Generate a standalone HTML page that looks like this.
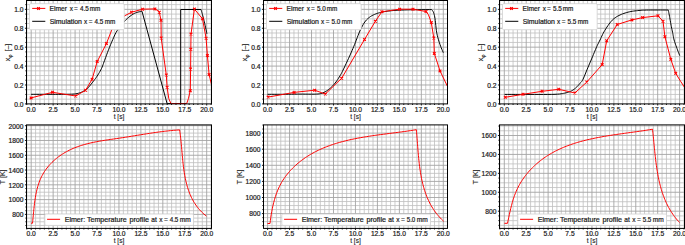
<!DOCTYPE html>
<html><head><meta charset="utf-8"><title>Elmer vs Simulation</title>
<style>html,body{margin:0;padding:0;background:#fff;width:685px;height:245px;overflow:hidden}svg{display:block}text{font-family:"Liberation Sans",sans-serif;stroke:#1a1a1a;stroke-width:0.2px}.lab text,text.lab{stroke-width:0.12px}</style>
</head><body>
<svg xmlns="http://www.w3.org/2000/svg" width="685" height="245" viewBox="0 0 685 245" font-family=''Liberation Sans', sans-serif' fill="#1a1a1a">
<clipPath id="c0top"><rect x="26.5" y="0.5" width="185" height="103.4"/></clipPath>
<path d="M26.81 0.5V103.9M35.59 0.5V103.9M39.98 0.5V103.9M44.36 0.5V103.9M48.75 0.5V103.9M57.52 0.5V103.9M61.91 0.5V103.9M66.3 0.5V103.9M70.69 0.5V103.9M79.46 0.5V103.9M83.85 0.5V103.9M88.24 0.5V103.9M92.62 0.5V103.9M101.4 0.5V103.9M105.79 0.5V103.9M110.17 0.5V103.9M114.56 0.5V103.9M123.34 0.5V103.9M127.73 0.5V103.9M132.11 0.5V103.9M136.5 0.5V103.9M145.28 0.5V103.9M149.66 0.5V103.9M154.05 0.5V103.9M158.44 0.5V103.9M167.21 0.5V103.9M171.6 0.5V103.9M175.99 0.5V103.9M180.38 0.5V103.9M189.15 0.5V103.9M193.54 0.5V103.9M197.92 0.5V103.9M202.31 0.5V103.9M211.09 0.5V103.9M26.5 99.17H211.5M26.5 94.45H211.5M26.5 89.72H211.5M26.5 80.26H211.5M26.5 75.54H211.5M26.5 70.81H211.5M26.5 61.35H211.5M26.5 56.63H211.5M26.5 51.9H211.5M26.5 42.44H211.5M26.5 37.72H211.5M26.5 32.99H211.5M26.5 23.53H211.5M26.5 18.81H211.5M26.5 14.08H211.5M26.5 4.62H211.5" stroke="#bfbfbf" stroke-width="0.8" fill="none" class="mg"/>
<path d="M31.2 0.5V103.9M53.14 0.5V103.9M75.08 0.5V103.9M97.01 0.5V103.9M118.95 0.5V103.9M140.89 0.5V103.9M162.82 0.5V103.9M184.76 0.5V103.9M206.7 0.5V103.9M26.5 84.99H211.5M26.5 66.08H211.5M26.5 47.17H211.5M26.5 28.26H211.5M26.5 9.35H211.5" stroke="#a4a4a4" stroke-width="0.9" fill="none" class="Mg"/>
<polyline points="31.1,94.3 33.19,94.3 36.11,94.3 39.55,94.3 43.21,94.3 46.8,94.3 50,94.3 52.91,94.31 55.78,94.32 58.57,94.33 61.23,94.34 63.73,94.33 66,94.3 68.03,94.26 69.85,94.23 71.49,94.17 73.01,94.1 74.43,93.98 75.8,93.8 77.09,93.57 78.27,93.29 79.36,92.97 80.37,92.61 81.35,92.22 82.3,91.8 83.21,91.37 84.05,90.91 84.85,90.43 85.63,89.9 86.4,89.29 87.2,88.6 88.02,87.81 88.83,86.92 89.65,85.96 90.47,84.96 91.28,83.93 92.1,82.9 92.92,81.87 93.75,80.81 94.57,79.73 95.4,78.62 96.21,77.48 97,76.3 97.79,75.07 98.59,73.79 99.37,72.48 100.13,71.15 100.84,69.82 101.5,68.5 102.08,67.21 102.59,65.94 103.06,64.67 103.51,63.37 103.98,62.02 104.5,60.6 105.06,59.09 105.64,57.5 106.24,55.87 106.85,54.21 107.47,52.54 108.1,50.9 108.73,49.28 109.37,47.66 110.02,46.03 110.69,44.4 111.38,42.76 112.1,41.1 112.83,39.42 113.56,37.73 114.31,36.02 115.11,34.31 116,32.6 117,30.9 118.15,29.16 119.43,27.38 120.8,25.59 122.2,23.87 123.58,22.25 124.9,20.8 126.18,19.51 127.47,18.33 128.74,17.26 129.97,16.3 131.13,15.45 132.2,14.7 133.14,14.08 133.98,13.61 134.74,13.24 135.48,12.94 136.22,12.67 137,12.4 137.88,12.13 138.84,11.9 139.8,11.71 140.7,11.54 141.45,11.41 142,11.3 167.1,103.6 180.7,103.6 180.7,9.5 201,9.5 201.16,10.02 201.36,10.71 201.61,11.55 201.89,12.51 202.19,13.56 202.5,14.7 202.83,15.94 203.18,17.31 203.56,18.78 203.94,20.32 204.33,21.9 204.7,23.5 205.09,25.25 205.51,27.2 205.94,29.2 206.33,31.07 206.66,32.66 206.9,33.8" fill="none" stroke="#000000" stroke-width="1" stroke-linejoin="round" stroke-linecap="butt" clip-path="url(#c0top)"/>
<polyline points="31.1,97.9 52.5,92.3 75.8,96 85.6,90.2 92.1,79.3 97.2,61.6 106.4,43.6 113.5,25.5 124.9,15.7 131.6,12.2 142.6,9.2 154.9,8.9 158.6,11 159.3,12.2 161,20.3 161.2,38 166.3,75 167.1,87.2 168.8,98.7 170.9,103.5 186.7,103.5 188.4,98.7 190.3,90.7 190.6,69 190.8,49.2 191,34.1 194.4,9.1 202.5,18.8 206.1,38.2 207.4,55.4 209.1,74.4 212.5,89" fill="none" stroke="#ff0000" stroke-width="1" stroke-linejoin="round" stroke-linecap="butt" clip-path="url(#c0top)"/>
<path d="M29.75 96.55L32.45 99.25M29.75 99.25L32.45 96.55" stroke="#ff0000" stroke-width="1.1" clip-path="url(#c0top)"/>
<path d="M51.15 90.95L53.85 93.65M51.15 93.65L53.85 90.95" stroke="#ff0000" stroke-width="1.1" clip-path="url(#c0top)"/>
<path d="M74.45 94.65L77.15 97.35M74.45 97.35L77.15 94.65" stroke="#ff0000" stroke-width="1.1" clip-path="url(#c0top)"/>
<path d="M84.25 88.85L86.95 91.55M84.25 91.55L86.95 88.85" stroke="#ff0000" stroke-width="1.1" clip-path="url(#c0top)"/>
<path d="M90.75 77.95L93.45 80.65M90.75 80.65L93.45 77.95" stroke="#ff0000" stroke-width="1.1" clip-path="url(#c0top)"/>
<path d="M95.85 60.25L98.55 62.95M95.85 62.95L98.55 60.25" stroke="#ff0000" stroke-width="1.1" clip-path="url(#c0top)"/>
<path d="M105.05 42.25L107.75 44.95M105.05 44.95L107.75 42.25" stroke="#ff0000" stroke-width="1.1" clip-path="url(#c0top)"/>
<path d="M112.15 24.15L114.85 26.85M112.15 26.85L114.85 24.15" stroke="#ff0000" stroke-width="1.1" clip-path="url(#c0top)"/>
<path d="M130.25 10.85L132.95 13.55M130.25 13.55L132.95 10.85" stroke="#ff0000" stroke-width="1.1" clip-path="url(#c0top)"/>
<path d="M141.25 7.85L143.95 10.55M141.25 10.55L143.95 7.85" stroke="#ff0000" stroke-width="1.1" clip-path="url(#c0top)"/>
<path d="M153.55 7.55L156.25 10.25M153.55 10.25L156.25 7.55" stroke="#ff0000" stroke-width="1.1" clip-path="url(#c0top)"/>
<path d="M157.95 10.85L160.65 13.55M157.95 13.55L160.65 10.85" stroke="#ff0000" stroke-width="1.1" clip-path="url(#c0top)"/>
<path d="M159.65 18.95L162.35 21.65M159.65 21.65L162.35 18.95" stroke="#ff0000" stroke-width="1.1" clip-path="url(#c0top)"/>
<path d="M159.85 36.65L162.55 39.35M159.85 39.35L162.55 36.65" stroke="#ff0000" stroke-width="1.1" clip-path="url(#c0top)"/>
<path d="M164.95 73.65L167.65 76.35M164.95 76.35L167.65 73.65" stroke="#ff0000" stroke-width="1.1" clip-path="url(#c0top)"/>
<path d="M165.75 85.85L168.45 88.55M165.75 88.55L168.45 85.85" stroke="#ff0000" stroke-width="1.1" clip-path="url(#c0top)"/>
<path d="M188.95 89.35L191.65 92.05M188.95 92.05L191.65 89.35" stroke="#ff0000" stroke-width="1.1" clip-path="url(#c0top)"/>
<path d="M189.25 67.65L191.95 70.35M189.25 70.35L191.95 67.65" stroke="#ff0000" stroke-width="1.1" clip-path="url(#c0top)"/>
<path d="M189.45 47.85L192.15 50.55M189.45 50.55L192.15 47.85" stroke="#ff0000" stroke-width="1.1" clip-path="url(#c0top)"/>
<path d="M189.65 32.75L192.35 35.45M189.65 35.45L192.35 32.75" stroke="#ff0000" stroke-width="1.1" clip-path="url(#c0top)"/>
<path d="M193.05 7.75L195.75 10.45M193.05 10.45L195.75 7.75" stroke="#ff0000" stroke-width="1.1" clip-path="url(#c0top)"/>
<path d="M201.15 17.45L203.85 20.15M201.15 20.15L203.85 17.45" stroke="#ff0000" stroke-width="1.1" clip-path="url(#c0top)"/>
<path d="M204.75 36.85L207.45 39.55M204.75 39.55L207.45 36.85" stroke="#ff0000" stroke-width="1.1" clip-path="url(#c0top)"/>
<path d="M206.05 54.05L208.75 56.75M206.05 56.75L208.75 54.05" stroke="#ff0000" stroke-width="1.1" clip-path="url(#c0top)"/>
<path d="M207.75 73.05L210.45 75.75M207.75 75.75L210.45 73.05" stroke="#ff0000" stroke-width="1.1" clip-path="url(#c0top)"/>
<path d="M26.81 103.9V105M31.2 103.9V105.5M35.59 103.9V105M39.98 103.9V105M44.36 103.9V105M48.75 103.9V105M53.14 103.9V105.5M57.52 103.9V105M61.91 103.9V105M66.3 103.9V105M70.69 103.9V105M75.08 103.9V105.5M79.46 103.9V105M83.85 103.9V105M88.24 103.9V105M92.62 103.9V105M97.01 103.9V105.5M101.4 103.9V105M105.79 103.9V105M110.17 103.9V105M114.56 103.9V105M118.95 103.9V105.5M123.34 103.9V105M127.73 103.9V105M132.11 103.9V105M136.5 103.9V105M140.89 103.9V105.5M145.28 103.9V105M149.66 103.9V105M154.05 103.9V105M158.44 103.9V105M162.82 103.9V105.5M167.21 103.9V105M171.6 103.9V105M175.99 103.9V105M180.38 103.9V105M184.76 103.9V105.5M189.15 103.9V105M193.54 103.9V105M197.92 103.9V105M202.31 103.9V105M206.7 103.9V105.5M211.09 103.9V105M26.5 103.9H24.9M26.5 99.17H25.4M26.5 94.45H25.4M26.5 89.72H25.4M26.5 84.99H24.9M26.5 80.26H25.4M26.5 75.54H25.4M26.5 70.81H25.4M26.5 66.08H24.9M26.5 61.35H25.4M26.5 56.63H25.4M26.5 51.9H25.4M26.5 47.17H24.9M26.5 42.44H25.4M26.5 37.72H25.4M26.5 32.99H25.4M26.5 28.26H24.9M26.5 23.53H25.4M26.5 18.81H25.4M26.5 14.08H25.4M26.5 9.35H24.9M26.5 4.62H25.4" stroke="#000" stroke-width="0.9" fill="none"/>
<rect x="26.5" y="0.5" width="185" height="103.4" fill="none" stroke="#000" stroke-width="1"/>
<text x="31.2" y="111.8" font-size="6.4" text-anchor="middle" textLength="9.3" lengthAdjust="spacingAndGlyphs">0.0</text>
<text x="53.14" y="111.8" font-size="6.4" text-anchor="middle" textLength="9.3" lengthAdjust="spacingAndGlyphs">2.5</text>
<text x="75.08" y="111.8" font-size="6.4" text-anchor="middle" textLength="9.3" lengthAdjust="spacingAndGlyphs">5.0</text>
<text x="97.01" y="111.8" font-size="6.4" text-anchor="middle" textLength="9.3" lengthAdjust="spacingAndGlyphs">7.5</text>
<text x="118.95" y="111.8" font-size="6.4" text-anchor="middle" textLength="13.03" lengthAdjust="spacingAndGlyphs">10.0</text>
<text x="140.89" y="111.8" font-size="6.4" text-anchor="middle" textLength="13.03" lengthAdjust="spacingAndGlyphs">12.5</text>
<text x="162.82" y="111.8" font-size="6.4" text-anchor="middle" textLength="13.03" lengthAdjust="spacingAndGlyphs">15.0</text>
<text x="184.76" y="111.8" font-size="6.4" text-anchor="middle" textLength="13.03" lengthAdjust="spacingAndGlyphs">17.5</text>
<text x="206.7" y="111.8" font-size="6.4" text-anchor="middle" textLength="13.03" lengthAdjust="spacingAndGlyphs">20.0</text>
<text x="23.5" y="106.75" font-size="6.4" text-anchor="end" textLength="9.3" lengthAdjust="spacingAndGlyphs">0.0</text>
<text x="23.5" y="87.84" font-size="6.4" text-anchor="end" textLength="9.3" lengthAdjust="spacingAndGlyphs">0.2</text>
<text x="23.5" y="68.93" font-size="6.4" text-anchor="end" textLength="9.3" lengthAdjust="spacingAndGlyphs">0.4</text>
<text x="23.5" y="50.02" font-size="6.4" text-anchor="end" textLength="9.3" lengthAdjust="spacingAndGlyphs">0.6</text>
<text x="23.5" y="31.11" font-size="6.4" text-anchor="end" textLength="9.3" lengthAdjust="spacingAndGlyphs">0.8</text>
<text x="23.5" y="12.2" font-size="6.4" text-anchor="end" textLength="9.3" lengthAdjust="spacingAndGlyphs">1.0</text>
<text x="119" y="118.9" font-size="7" text-anchor="middle" textLength="10.6" lengthAdjust="spacingAndGlyphs" class="lab">t [s]</text>
<g class="lab" transform="translate(10 61.3) rotate(-90)"><text x="0" y="0" font-size="7">x</text><text x="3.6" y="1.7" font-size="4.8">φ</text><text x="9.8" y="0" font-size="7">[–]</text></g>
<rect x="29.5" y="3.7" width="94.7" height="26" rx="1.2" fill="#fff" stroke="#d0d0d0" stroke-width="0.8"/>
<path d="M32.2 8.4H45.3" stroke="#ff0000" stroke-width="1"/>
<path d="M37.15 7.05L39.85 9.75M37.15 9.75L39.85 7.05" stroke="#ff0000" stroke-width="1.1"/>
<path d="M32.2 21.3H45.3" stroke="#000000" stroke-width="1"/>
<text x="49.6" y="10.7" font-size="6.4" text-anchor="start" textLength="17.4" lengthAdjust="spacingAndGlyphs">Elmer</text>
<text x="69.7" y="10.7" font-size="6.4" text-anchor="start">x</text>
<text x="74" y="10.7" font-size="6.4" text-anchor="start">=</text>
<text x="79.9" y="10.7" font-size="6.4" text-anchor="start" textLength="8.8" lengthAdjust="spacingAndGlyphs">4.5</text>
<text x="89.8" y="10.7" font-size="6.4" text-anchor="start" textLength="10.5" lengthAdjust="spacingAndGlyphs">mm</text>
<text x="49.7" y="23.6" font-size="6.4" text-anchor="start" textLength="32.2" lengthAdjust="spacingAndGlyphs">Simulation</text>
<text x="84.1" y="23.6" font-size="6.4" text-anchor="start">x</text>
<text x="88.7" y="23.6" font-size="6.4" text-anchor="start">=</text>
<text x="94.6" y="23.6" font-size="6.4" text-anchor="start" textLength="8.8" lengthAdjust="spacingAndGlyphs">4.5</text>
<text x="104.7" y="23.6" font-size="6.4" text-anchor="start" textLength="10.5" lengthAdjust="spacingAndGlyphs">mm</text>
<clipPath id="c1top"><rect x="263.5" y="0.5" width="184" height="103.4"/></clipPath>
<path d="M271.99 0.5V103.9M276.39 0.5V103.9M280.78 0.5V103.9M285.17 0.5V103.9M293.96 0.5V103.9M298.35 0.5V103.9M302.74 0.5V103.9M307.13 0.5V103.9M315.92 0.5V103.9M320.31 0.5V103.9M324.7 0.5V103.9M329.1 0.5V103.9M337.88 0.5V103.9M342.27 0.5V103.9M346.67 0.5V103.9M351.06 0.5V103.9M359.84 0.5V103.9M364.24 0.5V103.9M368.63 0.5V103.9M373.02 0.5V103.9M381.81 0.5V103.9M386.2 0.5V103.9M390.59 0.5V103.9M394.98 0.5V103.9M403.77 0.5V103.9M408.16 0.5V103.9M412.55 0.5V103.9M416.94 0.5V103.9M425.73 0.5V103.9M430.12 0.5V103.9M434.51 0.5V103.9M438.91 0.5V103.9M263.5 99.17H447.5M263.5 94.45H447.5M263.5 89.72H447.5M263.5 80.26H447.5M263.5 75.54H447.5M263.5 70.81H447.5M263.5 61.35H447.5M263.5 56.63H447.5M263.5 51.9H447.5M263.5 42.44H447.5M263.5 37.72H447.5M263.5 32.99H447.5M263.5 23.53H447.5M263.5 18.81H447.5M263.5 14.08H447.5M263.5 4.62H447.5" stroke="#bfbfbf" stroke-width="0.8" fill="none" class="mg"/>
<path d="M267.6 0.5V103.9M289.56 0.5V103.9M311.53 0.5V103.9M333.49 0.5V103.9M355.45 0.5V103.9M377.41 0.5V103.9M399.38 0.5V103.9M421.34 0.5V103.9M443.3 0.5V103.9M263.5 84.99H447.5M263.5 66.08H447.5M263.5 47.17H447.5M263.5 28.26H447.5M263.5 9.35H447.5" stroke="#a4a4a4" stroke-width="0.9" fill="none" class="Mg"/>
<polyline points="267.5,94.3 269.17,94.3 271.46,94.31 274.19,94.31 277.15,94.31 280.15,94.31 283,94.3 285.75,94.28 288.58,94.24 291.45,94.2 294.33,94.16 297.19,94.12 300,94.1 302.87,94.1 305.84,94.13 308.8,94.16 311.61,94.18 314.15,94.17 316.3,94.1 317.96,94 319.22,93.89 320.21,93.75 321.07,93.55 321.92,93.28 322.9,92.9 324,92.42 325.1,91.84 326.21,91.19 327.3,90.47 328.36,89.7 329.4,88.9 330.41,88.05 331.39,87.16 332.35,86.21 333.29,85.21 334.21,84.17 335.1,83.1 335.98,81.95 336.86,80.72 337.71,79.45 338.53,78.18 339.3,76.95 340,75.8 340.58,74.84 341.04,74.06 341.45,73.31 341.88,72.48 342.41,71.42 343.1,70 344.01,68.12 345.07,65.87 346.24,63.4 347.43,60.85 348.57,58.37 349.6,56.1 350.5,54.08 351.33,52.2 352.12,50.39 352.89,48.58 353.67,46.7 354.5,44.7 355.38,42.5 356.28,40.13 357.2,37.7 358.12,35.3 359.02,33.04 359.9,31 360.75,29.18 361.57,27.5 362.38,25.95 363.19,24.52 363.99,23.21 364.8,22 365.62,20.92 366.43,19.98 367.25,19.16 368.07,18.42 368.88,17.74 369.7,17.1 370.52,16.51 371.33,16 372.15,15.55 372.97,15.14 373.78,14.77 374.6,14.4 375.4,14.05 376.17,13.74 376.95,13.46 377.75,13.2 378.59,12.95 379.5,12.7 380.46,12.46 381.46,12.23 382.49,12.01 383.59,11.8 384.75,11.59 386,11.4 387.29,11.21 388.59,11.03 389.97,10.86 391.46,10.69 393.12,10.54 395,10.4 397.08,10.27 399.31,10.16 401.71,10.05 404.28,9.96 407.04,9.87 410,9.8 413.48,9.74 417.54,9.7 421.79,9.66 425.83,9.64 429.26,9.62 431.7,9.6 431.89,9.84 432.14,10.14 432.45,10.51 432.78,10.96 433.1,11.52 433.4,12.2 433.67,12.94 433.93,13.72 434.19,14.6 434.46,15.65 434.72,16.93 435,18.5 435.27,20.49 435.53,22.87 435.8,25.48 436.09,28.16 436.42,30.76 436.8,33.1 437.25,35.22 437.76,37.26 438.31,39.2 438.87,41.06 439.44,42.82 440,44.5 440.58,46.15 441.21,47.77 441.85,49.31 442.44,50.69 442.94,51.84 443.3,52.7" fill="none" stroke="#000000" stroke-width="1" stroke-linejoin="round" stroke-linecap="butt" clip-path="url(#c1top)"/>
<polyline points="268.1,97.1 294.1,92.4 314.7,90.2 325.3,94.1 341.7,78.2 364.5,39.5 375.4,21.2 381.9,11.8 399.6,9.2 413,9.2 426,11.5 428.4,14.6 431.3,22.6 433.8,38 434.3,53.4 440,70.9 448.5,88.5" fill="none" stroke="#ff0000" stroke-width="1" stroke-linejoin="round" stroke-linecap="butt" clip-path="url(#c1top)"/>
<path d="M266.75 95.75L269.45 98.45M266.75 98.45L269.45 95.75" stroke="#ff0000" stroke-width="1.1" clip-path="url(#c1top)"/>
<path d="M292.75 91.05L295.45 93.75M292.75 93.75L295.45 91.05" stroke="#ff0000" stroke-width="1.1" clip-path="url(#c1top)"/>
<path d="M313.35 88.85L316.05 91.55M313.35 91.55L316.05 88.85" stroke="#ff0000" stroke-width="1.1" clip-path="url(#c1top)"/>
<path d="M323.95 92.75L326.65 95.45M323.95 95.45L326.65 92.75" stroke="#ff0000" stroke-width="1.1" clip-path="url(#c1top)"/>
<path d="M340.35 76.85L343.05 79.55M340.35 79.55L343.05 76.85" stroke="#ff0000" stroke-width="1.1" clip-path="url(#c1top)"/>
<path d="M363.15 38.15L365.85 40.85M363.15 40.85L365.85 38.15" stroke="#ff0000" stroke-width="1.1" clip-path="url(#c1top)"/>
<path d="M374.05 19.85L376.75 22.55M374.05 22.55L376.75 19.85" stroke="#ff0000" stroke-width="1.1" clip-path="url(#c1top)"/>
<path d="M380.55 10.45L383.25 13.15M380.55 13.15L383.25 10.45" stroke="#ff0000" stroke-width="1.1" clip-path="url(#c1top)"/>
<path d="M398.25 7.85L400.95 10.55M398.25 10.55L400.95 7.85" stroke="#ff0000" stroke-width="1.1" clip-path="url(#c1top)"/>
<path d="M411.65 7.85L414.35 10.55M411.65 10.55L414.35 7.85" stroke="#ff0000" stroke-width="1.1" clip-path="url(#c1top)"/>
<path d="M424.65 10.15L427.35 12.85M424.65 12.85L427.35 10.15" stroke="#ff0000" stroke-width="1.1" clip-path="url(#c1top)"/>
<path d="M429.95 21.25L432.65 23.95M429.95 23.95L432.65 21.25" stroke="#ff0000" stroke-width="1.1" clip-path="url(#c1top)"/>
<path d="M432.45 36.65L435.15 39.35M432.45 39.35L435.15 36.65" stroke="#ff0000" stroke-width="1.1" clip-path="url(#c1top)"/>
<path d="M432.95 52.05L435.65 54.75M432.95 54.75L435.65 52.05" stroke="#ff0000" stroke-width="1.1" clip-path="url(#c1top)"/>
<path d="M438.65 69.55L441.35 72.25M438.65 72.25L441.35 69.55" stroke="#ff0000" stroke-width="1.1" clip-path="url(#c1top)"/>
<path d="M267.6 103.9V105.5M271.99 103.9V105M276.39 103.9V105M280.78 103.9V105M285.17 103.9V105M289.56 103.9V105.5M293.96 103.9V105M298.35 103.9V105M302.74 103.9V105M307.13 103.9V105M311.53 103.9V105.5M315.92 103.9V105M320.31 103.9V105M324.7 103.9V105M329.1 103.9V105M333.49 103.9V105.5M337.88 103.9V105M342.27 103.9V105M346.67 103.9V105M351.06 103.9V105M355.45 103.9V105.5M359.84 103.9V105M364.24 103.9V105M368.63 103.9V105M373.02 103.9V105M377.41 103.9V105.5M381.81 103.9V105M386.2 103.9V105M390.59 103.9V105M394.98 103.9V105M399.38 103.9V105.5M403.77 103.9V105M408.16 103.9V105M412.55 103.9V105M416.94 103.9V105M421.34 103.9V105.5M425.73 103.9V105M430.12 103.9V105M434.51 103.9V105M438.91 103.9V105M443.3 103.9V105.5M263.5 103.9H261.9M263.5 99.17H262.4M263.5 94.45H262.4M263.5 89.72H262.4M263.5 84.99H261.9M263.5 80.26H262.4M263.5 75.54H262.4M263.5 70.81H262.4M263.5 66.08H261.9M263.5 61.35H262.4M263.5 56.63H262.4M263.5 51.9H262.4M263.5 47.17H261.9M263.5 42.44H262.4M263.5 37.72H262.4M263.5 32.99H262.4M263.5 28.26H261.9M263.5 23.53H262.4M263.5 18.81H262.4M263.5 14.08H262.4M263.5 9.35H261.9M263.5 4.62H262.4" stroke="#000" stroke-width="0.9" fill="none"/>
<rect x="263.5" y="0.5" width="184" height="103.4" fill="none" stroke="#000" stroke-width="1"/>
<text x="267.6" y="111.8" font-size="6.4" text-anchor="middle" textLength="9.3" lengthAdjust="spacingAndGlyphs">0.0</text>
<text x="289.56" y="111.8" font-size="6.4" text-anchor="middle" textLength="9.3" lengthAdjust="spacingAndGlyphs">2.5</text>
<text x="311.53" y="111.8" font-size="6.4" text-anchor="middle" textLength="9.3" lengthAdjust="spacingAndGlyphs">5.0</text>
<text x="333.49" y="111.8" font-size="6.4" text-anchor="middle" textLength="9.3" lengthAdjust="spacingAndGlyphs">7.5</text>
<text x="355.45" y="111.8" font-size="6.4" text-anchor="middle" textLength="13.03" lengthAdjust="spacingAndGlyphs">10.0</text>
<text x="377.41" y="111.8" font-size="6.4" text-anchor="middle" textLength="13.03" lengthAdjust="spacingAndGlyphs">12.5</text>
<text x="399.38" y="111.8" font-size="6.4" text-anchor="middle" textLength="13.03" lengthAdjust="spacingAndGlyphs">15.0</text>
<text x="421.34" y="111.8" font-size="6.4" text-anchor="middle" textLength="13.03" lengthAdjust="spacingAndGlyphs">17.5</text>
<text x="443.3" y="111.8" font-size="6.4" text-anchor="middle" textLength="13.03" lengthAdjust="spacingAndGlyphs">20.0</text>
<text x="260.5" y="106.75" font-size="6.4" text-anchor="end" textLength="9.3" lengthAdjust="spacingAndGlyphs">0.0</text>
<text x="260.5" y="87.84" font-size="6.4" text-anchor="end" textLength="9.3" lengthAdjust="spacingAndGlyphs">0.2</text>
<text x="260.5" y="68.93" font-size="6.4" text-anchor="end" textLength="9.3" lengthAdjust="spacingAndGlyphs">0.4</text>
<text x="260.5" y="50.02" font-size="6.4" text-anchor="end" textLength="9.3" lengthAdjust="spacingAndGlyphs">0.6</text>
<text x="260.5" y="31.11" font-size="6.4" text-anchor="end" textLength="9.3" lengthAdjust="spacingAndGlyphs">0.8</text>
<text x="260.5" y="12.2" font-size="6.4" text-anchor="end" textLength="9.3" lengthAdjust="spacingAndGlyphs">1.0</text>
<text x="355.5" y="118.9" font-size="7" text-anchor="middle" textLength="10.6" lengthAdjust="spacingAndGlyphs" class="lab">t [s]</text>
<g class="lab" transform="translate(247 61.3) rotate(-90)"><text x="0" y="0" font-size="7">x</text><text x="3.6" y="1.7" font-size="4.8">φ</text><text x="9.8" y="0" font-size="7">[–]</text></g>
<rect x="266.5" y="3.7" width="94.7" height="26" rx="1.2" fill="#fff" stroke="#d0d0d0" stroke-width="0.8"/>
<path d="M269.2 8.4H282.3" stroke="#ff0000" stroke-width="1"/>
<path d="M274.15 7.05L276.85 9.75M274.15 9.75L276.85 7.05" stroke="#ff0000" stroke-width="1.1"/>
<path d="M269.2 21.3H282.3" stroke="#000000" stroke-width="1"/>
<text x="286.6" y="10.7" font-size="6.4" text-anchor="start" textLength="17.4" lengthAdjust="spacingAndGlyphs">Elmer</text>
<text x="306.7" y="10.7" font-size="6.4" text-anchor="start">x</text>
<text x="311" y="10.7" font-size="6.4" text-anchor="start">=</text>
<text x="316.9" y="10.7" font-size="6.4" text-anchor="start" textLength="8.8" lengthAdjust="spacingAndGlyphs">5.0</text>
<text x="326.8" y="10.7" font-size="6.4" text-anchor="start" textLength="10.5" lengthAdjust="spacingAndGlyphs">mm</text>
<text x="286.7" y="23.6" font-size="6.4" text-anchor="start" textLength="32.2" lengthAdjust="spacingAndGlyphs">Simulation</text>
<text x="321.1" y="23.6" font-size="6.4" text-anchor="start">x</text>
<text x="325.7" y="23.6" font-size="6.4" text-anchor="start">=</text>
<text x="331.6" y="23.6" font-size="6.4" text-anchor="start" textLength="8.8" lengthAdjust="spacingAndGlyphs">5.0</text>
<text x="341.7" y="23.6" font-size="6.4" text-anchor="start" textLength="10.5" lengthAdjust="spacingAndGlyphs">mm</text>
<clipPath id="c2top"><rect x="499.5" y="0.5" width="185" height="103.4"/></clipPath>
<path d="M499.92 0.5V103.9M508.68 0.5V103.9M513.07 0.5V103.9M517.45 0.5V103.9M521.83 0.5V103.9M530.6 0.5V103.9M534.98 0.5V103.9M539.36 0.5V103.9M543.74 0.5V103.9M552.51 0.5V103.9M556.89 0.5V103.9M561.27 0.5V103.9M565.65 0.5V103.9M574.42 0.5V103.9M578.8 0.5V103.9M583.19 0.5V103.9M587.57 0.5V103.9M596.33 0.5V103.9M600.72 0.5V103.9M605.1 0.5V103.9M609.48 0.5V103.9M618.25 0.5V103.9M622.63 0.5V103.9M627.01 0.5V103.9M631.39 0.5V103.9M640.16 0.5V103.9M644.54 0.5V103.9M648.92 0.5V103.9M653.31 0.5V103.9M662.07 0.5V103.9M666.45 0.5V103.9M670.84 0.5V103.9M675.22 0.5V103.9M683.98 0.5V103.9M499.5 99.17H684.5M499.5 94.45H684.5M499.5 89.72H684.5M499.5 80.26H684.5M499.5 75.54H684.5M499.5 70.81H684.5M499.5 61.35H684.5M499.5 56.63H684.5M499.5 51.9H684.5M499.5 42.44H684.5M499.5 37.72H684.5M499.5 32.99H684.5M499.5 23.53H684.5M499.5 18.81H684.5M499.5 14.08H684.5M499.5 4.62H684.5" stroke="#bfbfbf" stroke-width="0.8" fill="none" class="mg"/>
<path d="M504.3 0.5V103.9M526.21 0.5V103.9M548.12 0.5V103.9M570.04 0.5V103.9M591.95 0.5V103.9M613.86 0.5V103.9M635.77 0.5V103.9M657.69 0.5V103.9M679.6 0.5V103.9M499.5 84.99H684.5M499.5 66.08H684.5M499.5 47.17H684.5M499.5 28.26H684.5M499.5 9.35H684.5" stroke="#a4a4a4" stroke-width="0.9" fill="none" class="Mg"/>
<polyline points="504.6,94.4 507.37,94.4 511.2,94.4 515.74,94.41 520.62,94.41 525.5,94.41 530,94.4 534.37,94.4 538.93,94.41 543.48,94.42 547.81,94.42 551.72,94.38 555,94.3 557.55,94.17 559.51,94.01 561.06,93.83 562.34,93.61 563.53,93.36 564.8,93.1 566.09,92.82 567.27,92.52 568.36,92.19 569.37,91.84 570.35,91.44 571.3,91 572.22,90.51 573.09,89.96 573.92,89.38 574.71,88.77 575.47,88.14 576.2,87.5 576.91,86.84 577.58,86.14 578.23,85.42 578.84,84.7 579.43,83.98 580,83.3 580.51,82.73 580.96,82.3 581.38,81.87 581.82,81.34 582.31,80.59 582.9,79.5 583.6,78 584.39,76.18 585.22,74.13 586.09,71.98 586.96,69.83 587.8,67.8 588.63,65.85 589.46,63.89 590.3,61.93 591.13,60 591.93,58.12 592.7,56.3 593.44,54.53 594.16,52.79 594.86,51.09 595.53,49.46 596.18,47.92 596.8,46.5 597.38,45.25 597.9,44.15 598.41,43.15 598.91,42.17 599.43,41.14 600,40 600.6,38.74 601.2,37.42 601.83,36.05 602.5,34.65 603.21,33.23 604,31.8 604.88,30.31 605.86,28.74 606.89,27.14 607.94,25.6 608.95,24.16 609.9,22.9 610.76,21.84 611.55,20.92 612.31,20.12 613.09,19.39 613.9,18.7 614.8,18 615.77,17.31 616.79,16.67 617.84,16.06 618.95,15.48 620.1,14.93 621.3,14.4 622.57,13.89 623.91,13.41 625.29,12.95 626.7,12.53 628.11,12.14 629.5,11.8 630.88,11.51 632.27,11.27 633.66,11.07 635.03,10.9 636.39,10.74 637.7,10.6 638.93,10.47 640.06,10.37 641.18,10.28 642.33,10.21 643.58,10.15 645,10.1 646.6,10.06 648.34,10.03 650.19,10.02 652.1,10.01 654.05,10.01 656,10 658.12,9.99 660.46,9.99 662.84,9.99 665.06,10 666.95,10 668.3,10 668.43,10.65 668.6,11.53 668.8,12.59 669.03,13.77 669.26,15.02 669.5,16.3 669.74,17.65 670,19.13 670.27,20.68 670.54,22.26 670.82,23.82 671.1,25.3 671.38,26.73 671.67,28.16 671.97,29.56 672.26,30.92 672.54,32.24 672.8,33.5 673.02,34.66 673.2,35.72 673.38,36.73 673.56,37.75 673.8,38.82 674.1,40 674.49,41.32 674.96,42.74 675.46,44.21 675.99,45.7 676.51,47.14 677,48.5 677.49,49.85 678.01,51.23 678.53,52.58 679.01,53.81 679.41,54.84 679.7,55.6" fill="none" stroke="#000000" stroke-width="1" stroke-linejoin="round" stroke-linecap="butt" clip-path="url(#c2top)"/>
<polyline points="505.3,97.3 523,94.3 542.1,91.3 558.8,89.3 574.9,93 586.8,82 602.2,64.6 606.7,40.8 617.2,24.5 631.9,19.9 642.6,17.6 658,15.8 663,21.2 664.9,36.7 670.8,59.3 675.7,73.3 680.6,81.3 685.5,88.8" fill="none" stroke="#ff0000" stroke-width="1" stroke-linejoin="round" stroke-linecap="butt" clip-path="url(#c2top)"/>
<path d="M503.95 95.95L506.65 98.65M503.95 98.65L506.65 95.95" stroke="#ff0000" stroke-width="1.1" clip-path="url(#c2top)"/>
<path d="M521.65 92.95L524.35 95.65M521.65 95.65L524.35 92.95" stroke="#ff0000" stroke-width="1.1" clip-path="url(#c2top)"/>
<path d="M540.75 89.95L543.45 92.65M540.75 92.65L543.45 89.95" stroke="#ff0000" stroke-width="1.1" clip-path="url(#c2top)"/>
<path d="M557.45 87.95L560.15 90.65M557.45 90.65L560.15 87.95" stroke="#ff0000" stroke-width="1.1" clip-path="url(#c2top)"/>
<path d="M573.55 91.65L576.25 94.35M573.55 94.35L576.25 91.65" stroke="#ff0000" stroke-width="1.1" clip-path="url(#c2top)"/>
<path d="M585.45 80.65L588.15 83.35M585.45 83.35L588.15 80.65" stroke="#ff0000" stroke-width="1.1" clip-path="url(#c2top)"/>
<path d="M600.85 63.25L603.55 65.95M600.85 65.95L603.55 63.25" stroke="#ff0000" stroke-width="1.1" clip-path="url(#c2top)"/>
<path d="M605.35 39.45L608.05 42.15M605.35 42.15L608.05 39.45" stroke="#ff0000" stroke-width="1.1" clip-path="url(#c2top)"/>
<path d="M615.85 23.15L618.55 25.85M615.85 25.85L618.55 23.15" stroke="#ff0000" stroke-width="1.1" clip-path="url(#c2top)"/>
<path d="M630.55 18.55L633.25 21.25M630.55 21.25L633.25 18.55" stroke="#ff0000" stroke-width="1.1" clip-path="url(#c2top)"/>
<path d="M641.25 16.25L643.95 18.95M641.25 18.95L643.95 16.25" stroke="#ff0000" stroke-width="1.1" clip-path="url(#c2top)"/>
<path d="M656.65 14.45L659.35 17.15M656.65 17.15L659.35 14.45" stroke="#ff0000" stroke-width="1.1" clip-path="url(#c2top)"/>
<path d="M661.65 19.85L664.35 22.55M661.65 22.55L664.35 19.85" stroke="#ff0000" stroke-width="1.1" clip-path="url(#c2top)"/>
<path d="M663.55 35.35L666.25 38.05M663.55 38.05L666.25 35.35" stroke="#ff0000" stroke-width="1.1" clip-path="url(#c2top)"/>
<path d="M669.45 57.95L672.15 60.65M669.45 60.65L672.15 57.95" stroke="#ff0000" stroke-width="1.1" clip-path="url(#c2top)"/>
<path d="M674.35 71.95L677.05 74.65M674.35 74.65L677.05 71.95" stroke="#ff0000" stroke-width="1.1" clip-path="url(#c2top)"/>
<path d="M499.92 103.9V105M504.3 103.9V105.5M508.68 103.9V105M513.07 103.9V105M517.45 103.9V105M521.83 103.9V105M526.21 103.9V105.5M530.6 103.9V105M534.98 103.9V105M539.36 103.9V105M543.74 103.9V105M548.12 103.9V105.5M552.51 103.9V105M556.89 103.9V105M561.27 103.9V105M565.65 103.9V105M570.04 103.9V105.5M574.42 103.9V105M578.8 103.9V105M583.19 103.9V105M587.57 103.9V105M591.95 103.9V105.5M596.33 103.9V105M600.72 103.9V105M605.1 103.9V105M609.48 103.9V105M613.86 103.9V105.5M618.25 103.9V105M622.63 103.9V105M627.01 103.9V105M631.39 103.9V105M635.77 103.9V105.5M640.16 103.9V105M644.54 103.9V105M648.92 103.9V105M653.31 103.9V105M657.69 103.9V105.5M662.07 103.9V105M666.45 103.9V105M670.84 103.9V105M675.22 103.9V105M679.6 103.9V105.5M683.98 103.9V105M499.5 103.9H497.9M499.5 99.17H498.4M499.5 94.45H498.4M499.5 89.72H498.4M499.5 84.99H497.9M499.5 80.26H498.4M499.5 75.54H498.4M499.5 70.81H498.4M499.5 66.08H497.9M499.5 61.35H498.4M499.5 56.63H498.4M499.5 51.9H498.4M499.5 47.17H497.9M499.5 42.44H498.4M499.5 37.72H498.4M499.5 32.99H498.4M499.5 28.26H497.9M499.5 23.53H498.4M499.5 18.81H498.4M499.5 14.08H498.4M499.5 9.35H497.9M499.5 4.62H498.4" stroke="#000" stroke-width="0.9" fill="none"/>
<rect x="499.5" y="0.5" width="185" height="103.4" fill="none" stroke="#000" stroke-width="1"/>
<text x="504.3" y="111.8" font-size="6.4" text-anchor="middle" textLength="9.3" lengthAdjust="spacingAndGlyphs">0.0</text>
<text x="526.21" y="111.8" font-size="6.4" text-anchor="middle" textLength="9.3" lengthAdjust="spacingAndGlyphs">2.5</text>
<text x="548.12" y="111.8" font-size="6.4" text-anchor="middle" textLength="9.3" lengthAdjust="spacingAndGlyphs">5.0</text>
<text x="570.04" y="111.8" font-size="6.4" text-anchor="middle" textLength="9.3" lengthAdjust="spacingAndGlyphs">7.5</text>
<text x="591.95" y="111.8" font-size="6.4" text-anchor="middle" textLength="13.03" lengthAdjust="spacingAndGlyphs">10.0</text>
<text x="613.86" y="111.8" font-size="6.4" text-anchor="middle" textLength="13.03" lengthAdjust="spacingAndGlyphs">12.5</text>
<text x="635.77" y="111.8" font-size="6.4" text-anchor="middle" textLength="13.03" lengthAdjust="spacingAndGlyphs">15.0</text>
<text x="657.69" y="111.8" font-size="6.4" text-anchor="middle" textLength="13.03" lengthAdjust="spacingAndGlyphs">17.5</text>
<text x="679.6" y="111.8" font-size="6.4" text-anchor="middle" textLength="13.03" lengthAdjust="spacingAndGlyphs">20.0</text>
<text x="496.5" y="106.75" font-size="6.4" text-anchor="end" textLength="9.3" lengthAdjust="spacingAndGlyphs">0.0</text>
<text x="496.5" y="87.84" font-size="6.4" text-anchor="end" textLength="9.3" lengthAdjust="spacingAndGlyphs">0.2</text>
<text x="496.5" y="68.93" font-size="6.4" text-anchor="end" textLength="9.3" lengthAdjust="spacingAndGlyphs">0.4</text>
<text x="496.5" y="50.02" font-size="6.4" text-anchor="end" textLength="9.3" lengthAdjust="spacingAndGlyphs">0.6</text>
<text x="496.5" y="31.11" font-size="6.4" text-anchor="end" textLength="9.3" lengthAdjust="spacingAndGlyphs">0.8</text>
<text x="496.5" y="12.2" font-size="6.4" text-anchor="end" textLength="9.3" lengthAdjust="spacingAndGlyphs">1.0</text>
<text x="592" y="118.9" font-size="7" text-anchor="middle" textLength="10.6" lengthAdjust="spacingAndGlyphs" class="lab">t [s]</text>
<g class="lab" transform="translate(483 61.3) rotate(-90)"><text x="0" y="0" font-size="7">x</text><text x="3.6" y="1.7" font-size="4.8">φ</text><text x="9.8" y="0" font-size="7">[–]</text></g>
<rect x="502.5" y="3.7" width="94.7" height="26" rx="1.2" fill="#fff" stroke="#d0d0d0" stroke-width="0.8"/>
<path d="M505.2 8.4H518.3" stroke="#ff0000" stroke-width="1"/>
<path d="M510.15 7.05L512.85 9.75M510.15 9.75L512.85 7.05" stroke="#ff0000" stroke-width="1.1"/>
<path d="M505.2 21.3H518.3" stroke="#000000" stroke-width="1"/>
<text x="522.6" y="10.7" font-size="6.4" text-anchor="start" textLength="17.4" lengthAdjust="spacingAndGlyphs">Elmer</text>
<text x="542.7" y="10.7" font-size="6.4" text-anchor="start">x</text>
<text x="547" y="10.7" font-size="6.4" text-anchor="start">=</text>
<text x="552.9" y="10.7" font-size="6.4" text-anchor="start" textLength="8.8" lengthAdjust="spacingAndGlyphs">5.5</text>
<text x="562.8" y="10.7" font-size="6.4" text-anchor="start" textLength="10.5" lengthAdjust="spacingAndGlyphs">mm</text>
<text x="522.7" y="23.6" font-size="6.4" text-anchor="start" textLength="32.2" lengthAdjust="spacingAndGlyphs">Simulation</text>
<text x="557.1" y="23.6" font-size="6.4" text-anchor="start">x</text>
<text x="561.7" y="23.6" font-size="6.4" text-anchor="start">=</text>
<text x="567.6" y="23.6" font-size="6.4" text-anchor="start" textLength="8.8" lengthAdjust="spacingAndGlyphs">5.5</text>
<text x="577.7" y="23.6" font-size="6.4" text-anchor="start" textLength="10.5" lengthAdjust="spacingAndGlyphs">mm</text>
<clipPath id="c0bot"><rect x="26.5" y="124.9" width="185" height="103.5"/></clipPath>
<path d="M26.81 124.9V228.4M35.59 124.9V228.4M39.98 124.9V228.4M44.36 124.9V228.4M48.75 124.9V228.4M57.52 124.9V228.4M61.91 124.9V228.4M66.3 124.9V228.4M70.69 124.9V228.4M79.46 124.9V228.4M83.85 124.9V228.4M88.24 124.9V228.4M92.62 124.9V228.4M101.4 124.9V228.4M105.79 124.9V228.4M110.17 124.9V228.4M114.56 124.9V228.4M123.34 124.9V228.4M127.73 124.9V228.4M132.11 124.9V228.4M136.5 124.9V228.4M145.28 124.9V228.4M149.66 124.9V228.4M154.05 124.9V228.4M158.44 124.9V228.4M167.21 124.9V228.4M171.6 124.9V228.4M175.99 124.9V228.4M180.38 124.9V228.4M189.15 124.9V228.4M193.54 124.9V228.4M197.92 124.9V228.4M202.31 124.9V228.4M211.09 124.9V228.4M26.5 225.47H211.5M26.5 221.78H211.5M26.5 218.08H211.5M26.5 210.69H211.5M26.5 207H211.5M26.5 203.3H211.5M26.5 195.91H211.5M26.5 192.21H211.5M26.5 188.52H211.5M26.5 181.13H211.5M26.5 177.43H211.5M26.5 173.74H211.5M26.5 166.35H211.5M26.5 162.65H211.5M26.5 158.96H211.5M26.5 151.57H211.5M26.5 147.87H211.5M26.5 144.18H211.5M26.5 136.78H211.5M26.5 133.09H211.5M26.5 129.39H211.5" stroke="#bfbfbf" stroke-width="0.8" fill="none" class="mg"/>
<path d="M31.2 124.9V228.4M53.14 124.9V228.4M75.08 124.9V228.4M97.01 124.9V228.4M118.95 124.9V228.4M140.89 124.9V228.4M162.82 124.9V228.4M184.76 124.9V228.4M206.7 124.9V228.4M26.5 214.39H211.5M26.5 199.61H211.5M26.5 184.82H211.5M26.5 170.04H211.5M26.5 155.26H211.5M26.5 140.48H211.5M26.5 125.7H211.5" stroke="#a4a4a4" stroke-width="0.9" fill="none" class="Mg"/>
<polyline points="31,223.2 32.5,223.2 32.66,221.77 32.8,220.32 32.95,218.86 33.09,217.38 33.23,215.89 33.37,214.39 33.52,212.87 33.66,211.34 33.81,209.81 33.97,208.27 34.13,206.72 34.31,205.17 34.49,203.62 34.69,202.06 34.9,200.51 35.13,198.96 35.38,197.41 35.64,195.86 35.92,194.32 36.23,192.79 36.56,191.27 36.91,189.76 37.29,188.26 37.7,186.77 38.13,185.29 38.6,183.84 39.1,182.39 39.64,180.97 40.21,179.57 40.81,178.19 41.46,176.83 42.15,175.5 42.87,174.19 43.63,172.9 44.42,171.64 45.25,170.4 46.12,169.19 47.01,168 47.94,166.83 48.9,165.69 49.89,164.58 50.91,163.49 51.96,162.43 53.04,161.39 54.14,160.38 55.27,159.39 56.42,158.43 57.59,157.5 58.79,156.59 60.01,155.71 61.25,154.86 62.51,154.03 63.79,153.23 65.08,152.46 66.4,151.72 67.73,151 69.07,150.31 70.43,149.65 71.8,149.02 73.18,148.42 74.58,147.84 75.99,147.29 77.4,146.76 78.83,146.26 80.27,145.78 81.72,145.32 83.18,144.88 84.64,144.46 86.12,144.06 87.6,143.68 89.08,143.31 90.58,142.96 92.08,142.63 93.58,142.31 95.09,142.01 96.61,141.71 98.13,141.43 99.65,141.16 101.17,140.89 102.7,140.64 104.23,140.39 105.76,140.15 107.29,139.92 108.82,139.69 110.35,139.46 111.88,139.24 113.41,139.02 114.94,138.8 116.46,138.58 117.99,138.36 119.5,138.13 121.02,137.91 122.53,137.68 124.04,137.45 125.54,137.21 127.04,136.97 128.54,136.74 130.04,136.49 131.53,136.25 133.02,136.01 134.51,135.77 136,135.52 137.48,135.28 138.97,135.04 140.45,134.8 141.94,134.56 143.42,134.32 144.9,134.08 146.39,133.84 147.87,133.61 149.36,133.38 150.84,133.15 152.33,132.93 153.82,132.71 155.31,132.5 156.8,132.29 158.29,132.08 159.79,131.88 161.29,131.68 162.79,131.5 164.3,131.31 165.81,131.14 167.32,130.97 168.84,130.8 170.36,130.65 171.89,130.5 173.42,130.36 174.96,130.24 176.5,130.11 178.05,130 179.6,129.9 179.82,131.34 180.03,132.79 180.22,134.25 180.41,135.73 180.58,137.21 180.75,138.7 180.91,140.21 181.06,141.72 181.2,143.23 181.35,144.76 181.48,146.29 181.62,147.82 181.75,149.36 181.89,150.9 182.02,152.45 182.16,154 182.29,155.55 182.43,157.11 182.58,158.66 182.73,160.22 182.89,161.77 183.06,163.32 183.23,164.88 183.42,166.43 183.61,167.97 183.82,169.51 184.04,171.05 184.27,172.58 184.52,174.11 184.78,175.63 185.07,177.15 185.36,178.65 185.68,180.15 186.02,181.64 186.38,183.12 186.76,184.59 187.16,186.05 187.59,187.5 188.04,188.93 188.52,190.35 189.03,191.76 189.56,193.16 190.13,194.54 190.72,195.9 191.34,197.25 192,198.58 192.69,199.89 193.41,201.19 194.17,202.47 194.97,203.73 195.8,204.96 196.67,206.18 197.58,207.38 198.53,208.55 199.52,209.7 200.56,210.83 201.63,211.94 202.76,213.02 203.92,214.07 205.14,215.1 206.4,216.1" fill="none" stroke="#ff0000" stroke-width="1" stroke-linejoin="round" stroke-linecap="butt" clip-path="url(#c0bot)"/>
<path d="M26.81 228.4V229.5M31.2 228.4V230M35.59 228.4V229.5M39.98 228.4V229.5M44.36 228.4V229.5M48.75 228.4V229.5M53.14 228.4V230M57.52 228.4V229.5M61.91 228.4V229.5M66.3 228.4V229.5M70.69 228.4V229.5M75.08 228.4V230M79.46 228.4V229.5M83.85 228.4V229.5M88.24 228.4V229.5M92.62 228.4V229.5M97.01 228.4V230M101.4 228.4V229.5M105.79 228.4V229.5M110.17 228.4V229.5M114.56 228.4V229.5M118.95 228.4V230M123.34 228.4V229.5M127.73 228.4V229.5M132.11 228.4V229.5M136.5 228.4V229.5M140.89 228.4V230M145.28 228.4V229.5M149.66 228.4V229.5M154.05 228.4V229.5M158.44 228.4V229.5M162.82 228.4V230M167.21 228.4V229.5M171.6 228.4V229.5M175.99 228.4V229.5M180.38 228.4V229.5M184.76 228.4V230M189.15 228.4V229.5M193.54 228.4V229.5M197.92 228.4V229.5M202.31 228.4V229.5M206.7 228.4V230M211.09 228.4V229.5M26.5 225.47H25.4M26.5 221.78H25.4M26.5 218.08H25.4M26.5 214.39H24.9M26.5 210.69H25.4M26.5 207H25.4M26.5 203.3H25.4M26.5 199.61H24.9M26.5 195.91H25.4M26.5 192.21H25.4M26.5 188.52H25.4M26.5 184.82H24.9M26.5 181.13H25.4M26.5 177.43H25.4M26.5 173.74H25.4M26.5 170.04H24.9M26.5 166.35H25.4M26.5 162.65H25.4M26.5 158.96H25.4M26.5 155.26H24.9M26.5 151.57H25.4M26.5 147.87H25.4M26.5 144.18H25.4M26.5 140.48H24.9M26.5 136.78H25.4M26.5 133.09H25.4M26.5 129.39H25.4M26.5 125.7H24.9" stroke="#000" stroke-width="0.9" fill="none"/>
<rect x="26.5" y="124.9" width="185" height="103.5" fill="none" stroke="#000" stroke-width="1"/>
<text x="31.2" y="236.3" font-size="6.4" text-anchor="middle" textLength="9.3" lengthAdjust="spacingAndGlyphs">0.0</text>
<text x="53.14" y="236.3" font-size="6.4" text-anchor="middle" textLength="9.3" lengthAdjust="spacingAndGlyphs">2.5</text>
<text x="75.08" y="236.3" font-size="6.4" text-anchor="middle" textLength="9.3" lengthAdjust="spacingAndGlyphs">5.0</text>
<text x="97.01" y="236.3" font-size="6.4" text-anchor="middle" textLength="9.3" lengthAdjust="spacingAndGlyphs">7.5</text>
<text x="118.95" y="236.3" font-size="6.4" text-anchor="middle" textLength="13.03" lengthAdjust="spacingAndGlyphs">10.0</text>
<text x="140.89" y="236.3" font-size="6.4" text-anchor="middle" textLength="13.03" lengthAdjust="spacingAndGlyphs">12.5</text>
<text x="162.82" y="236.3" font-size="6.4" text-anchor="middle" textLength="13.03" lengthAdjust="spacingAndGlyphs">15.0</text>
<text x="184.76" y="236.3" font-size="6.4" text-anchor="middle" textLength="13.03" lengthAdjust="spacingAndGlyphs">17.5</text>
<text x="206.7" y="236.3" font-size="6.4" text-anchor="middle" textLength="13.03" lengthAdjust="spacingAndGlyphs">20.0</text>
<text x="23.5" y="217.24" font-size="6.4" text-anchor="end" textLength="11.17" lengthAdjust="spacingAndGlyphs">800</text>
<text x="23.5" y="202.46" font-size="6.4" text-anchor="end" textLength="14.89" lengthAdjust="spacingAndGlyphs">1000</text>
<text x="23.5" y="187.67" font-size="6.4" text-anchor="end" textLength="14.89" lengthAdjust="spacingAndGlyphs">1200</text>
<text x="23.5" y="172.89" font-size="6.4" text-anchor="end" textLength="14.89" lengthAdjust="spacingAndGlyphs">1400</text>
<text x="23.5" y="158.11" font-size="6.4" text-anchor="end" textLength="14.89" lengthAdjust="spacingAndGlyphs">1600</text>
<text x="23.5" y="143.33" font-size="6.4" text-anchor="end" textLength="14.89" lengthAdjust="spacingAndGlyphs">1800</text>
<text x="23.5" y="128.55" font-size="6.4" text-anchor="end" textLength="14.89" lengthAdjust="spacingAndGlyphs">2000</text>
<text x="119" y="243.4" font-size="7" text-anchor="middle" textLength="10.6" lengthAdjust="spacingAndGlyphs" class="lab">t [s]</text>
<text class="lab" transform="translate(4.6 176.8) rotate(-90)" font-size="7" text-anchor="middle">T [K]</text>
<rect x="44.8" y="214" width="148.7" height="11.4" rx="1.2" fill="#fff" stroke="#d0d0d0" stroke-width="0.8"/>
<path d="M47.1 219.3H60.1" stroke="#ff0000" stroke-width="1"/>
<text x="64.7" y="221.7" font-size="6.6" text-anchor="start" textLength="62" lengthAdjust="spacingAndGlyphs">Elmer: Temperature</text>
<text x="129.4" y="221.7" font-size="6.6" text-anchor="start" textLength="19.6" lengthAdjust="spacingAndGlyphs">profile</text>
<text x="151.3" y="221.7" font-size="6.6" text-anchor="start">at</text>
<text x="159.2" y="221.7" font-size="6.6" text-anchor="start">x</text>
<text x="164" y="221.7" font-size="6.6" text-anchor="start">=</text>
<text x="169.7" y="221.7" font-size="6.6" text-anchor="start" textLength="8.6" lengthAdjust="spacingAndGlyphs">4.5</text>
<text x="179.7" y="221.7" font-size="6.6" text-anchor="start" textLength="11" lengthAdjust="spacingAndGlyphs">mm</text>
<clipPath id="c1bot"><rect x="263.5" y="124.9" width="184" height="103.5"/></clipPath>
<path d="M271.99 124.9V228.4M276.39 124.9V228.4M280.78 124.9V228.4M285.17 124.9V228.4M293.96 124.9V228.4M298.35 124.9V228.4M302.74 124.9V228.4M307.13 124.9V228.4M315.92 124.9V228.4M320.31 124.9V228.4M324.7 124.9V228.4M329.1 124.9V228.4M337.88 124.9V228.4M342.27 124.9V228.4M346.67 124.9V228.4M351.06 124.9V228.4M359.84 124.9V228.4M364.24 124.9V228.4M368.63 124.9V228.4M373.02 124.9V228.4M381.81 124.9V228.4M386.2 124.9V228.4M390.59 124.9V228.4M394.98 124.9V228.4M403.77 124.9V228.4M408.16 124.9V228.4M412.55 124.9V228.4M416.94 124.9V228.4M425.73 124.9V228.4M430.12 124.9V228.4M434.51 124.9V228.4M438.91 124.9V228.4M263.5 225.66H447.5M263.5 221.64H447.5M263.5 217.62H447.5M263.5 209.57H447.5M263.5 205.54H447.5M263.5 201.52H447.5M263.5 193.47H447.5M263.5 189.45H447.5M263.5 185.42H447.5M263.5 177.37H447.5M263.5 173.35H447.5M263.5 169.33H447.5M263.5 161.28H447.5M263.5 157.25H447.5M263.5 153.23H447.5M263.5 145.18H447.5M263.5 141.16H447.5M263.5 137.13H447.5M263.5 129.09H447.5" stroke="#bfbfbf" stroke-width="0.8" fill="none" class="mg"/>
<path d="M267.6 124.9V228.4M289.56 124.9V228.4M311.53 124.9V228.4M333.49 124.9V228.4M355.45 124.9V228.4M377.41 124.9V228.4M399.38 124.9V228.4M421.34 124.9V228.4M443.3 124.9V228.4M263.5 213.59H447.5M263.5 197.49H447.5M263.5 181.4H447.5M263.5 165.3H447.5M263.5 149.21H447.5M263.5 133.11H447.5" stroke="#a4a4a4" stroke-width="0.9" fill="none" class="Mg"/>
<polyline points="267.5,223.5 270,223.5 270.18,222.01 270.38,220.52 270.58,219.02 270.79,217.52 271.01,216.01 271.25,214.5 271.5,212.99 271.77,211.48 272.05,209.97 272.35,208.46 272.66,206.96 273,205.45 273.35,203.95 273.72,202.46 274.11,200.97 274.53,199.49 274.96,198.02 275.42,196.56 275.9,195.1 276.41,193.66 276.95,192.23 277.51,190.82 278.09,189.41 278.71,188.02 279.36,186.65 280.03,185.29 280.74,183.96 281.48,182.64 282.24,181.33 283.04,180.05 283.87,178.79 284.73,177.54 285.61,176.32 286.52,175.11 287.46,173.93 288.42,172.76 289.41,171.61 290.42,170.49 291.45,169.38 292.51,168.29 293.59,167.23 294.68,166.18 295.8,165.15 296.93,164.15 298.08,163.16 299.25,162.2 300.44,161.26 301.64,160.34 302.86,159.44 304.08,158.56 305.33,157.7 306.58,156.86 307.85,156.05 309.12,155.26 310.41,154.48 311.71,153.73 313.02,153 314.34,152.28 315.67,151.59 317.01,150.92 318.36,150.26 319.71,149.62 321.08,149 322.46,148.4 323.84,147.81 325.24,147.25 326.64,146.69 328.05,146.16 329.46,145.64 330.89,145.13 332.32,144.64 333.76,144.16 335.2,143.7 336.65,143.25 338.11,142.82 339.57,142.4 341.04,141.99 342.51,141.59 343.99,141.21 345.48,140.84 346.97,140.47 348.46,140.12 349.96,139.78 351.46,139.45 352.96,139.13 354.47,138.82 355.98,138.52 357.5,138.23 359.02,137.94 360.54,137.67 362.06,137.4 363.58,137.13 365.11,136.88 366.64,136.63 368.17,136.39 369.7,136.15 371.23,135.92 372.76,135.7 374.29,135.47 375.82,135.26 377.35,135.04 378.88,134.83 380.41,134.63 381.94,134.42 383.47,134.22 385,134.03 386.52,133.83 388.05,133.63 389.57,133.44 391.09,133.24 392.6,133.05 394.11,132.86 395.62,132.66 397.13,132.47 398.63,132.27 400.13,132.07 401.63,131.88 403.12,131.67 404.6,131.47 406.09,131.26 407.56,131.05 409.03,130.84 410.5,130.62 411.96,130.4 413.41,130.17 414.86,129.94 416.3,129.7 416.44,131.18 416.58,132.67 416.71,134.17 416.84,135.67 416.96,137.18 417.08,138.7 417.2,140.22 417.32,141.74 417.43,143.28 417.55,144.81 417.67,146.35 417.79,147.89 417.91,149.43 418.03,150.98 418.16,152.52 418.29,154.07 418.43,155.62 418.57,157.17 418.72,158.72 418.88,160.27 419.05,161.82 419.22,163.37 419.4,164.91 419.6,166.46 419.8,168 420.02,169.53 420.24,171.07 420.48,172.6 420.74,174.12 421.01,175.64 421.29,177.16 421.59,178.67 421.9,180.17 422.24,181.67 422.59,183.16 422.95,184.64 423.34,186.12 423.75,187.58 424.18,189.04 424.63,190.49 425.1,191.92 425.6,193.35 426.12,194.77 426.66,196.18 427.23,197.57 427.82,198.95 428.44,200.32 429.09,201.68 429.76,203.03 430.47,204.36 431.2,205.67 431.96,206.97 432.75,208.26 433.58,209.53 434.43,210.79 435.32,212.03 436.25,213.25 437.2,214.46 438.19,215.64 439.22,216.81 440.28,217.96 441.39,219.1 442.52,220.21 443.7,221.3" fill="none" stroke="#ff0000" stroke-width="1" stroke-linejoin="round" stroke-linecap="butt" clip-path="url(#c1bot)"/>
<path d="M267.6 228.4V230M271.99 228.4V229.5M276.39 228.4V229.5M280.78 228.4V229.5M285.17 228.4V229.5M289.56 228.4V230M293.96 228.4V229.5M298.35 228.4V229.5M302.74 228.4V229.5M307.13 228.4V229.5M311.53 228.4V230M315.92 228.4V229.5M320.31 228.4V229.5M324.7 228.4V229.5M329.1 228.4V229.5M333.49 228.4V230M337.88 228.4V229.5M342.27 228.4V229.5M346.67 228.4V229.5M351.06 228.4V229.5M355.45 228.4V230M359.84 228.4V229.5M364.24 228.4V229.5M368.63 228.4V229.5M373.02 228.4V229.5M377.41 228.4V230M381.81 228.4V229.5M386.2 228.4V229.5M390.59 228.4V229.5M394.98 228.4V229.5M399.38 228.4V230M403.77 228.4V229.5M408.16 228.4V229.5M412.55 228.4V229.5M416.94 228.4V229.5M421.34 228.4V230M425.73 228.4V229.5M430.12 228.4V229.5M434.51 228.4V229.5M438.91 228.4V229.5M443.3 228.4V230M263.5 225.66H262.4M263.5 221.64H262.4M263.5 217.62H262.4M263.5 213.59H261.9M263.5 209.57H262.4M263.5 205.54H262.4M263.5 201.52H262.4M263.5 197.49H261.9M263.5 193.47H262.4M263.5 189.45H262.4M263.5 185.42H262.4M263.5 181.4H261.9M263.5 177.37H262.4M263.5 173.35H262.4M263.5 169.33H262.4M263.5 165.3H261.9M263.5 161.28H262.4M263.5 157.25H262.4M263.5 153.23H262.4M263.5 149.21H261.9M263.5 145.18H262.4M263.5 141.16H262.4M263.5 137.13H262.4M263.5 133.11H261.9M263.5 129.09H262.4M263.5 125.06H262.4" stroke="#000" stroke-width="0.9" fill="none"/>
<rect x="263.5" y="124.9" width="184" height="103.5" fill="none" stroke="#000" stroke-width="1"/>
<text x="267.6" y="236.3" font-size="6.4" text-anchor="middle" textLength="9.3" lengthAdjust="spacingAndGlyphs">0.0</text>
<text x="289.56" y="236.3" font-size="6.4" text-anchor="middle" textLength="9.3" lengthAdjust="spacingAndGlyphs">2.5</text>
<text x="311.53" y="236.3" font-size="6.4" text-anchor="middle" textLength="9.3" lengthAdjust="spacingAndGlyphs">5.0</text>
<text x="333.49" y="236.3" font-size="6.4" text-anchor="middle" textLength="9.3" lengthAdjust="spacingAndGlyphs">7.5</text>
<text x="355.45" y="236.3" font-size="6.4" text-anchor="middle" textLength="13.03" lengthAdjust="spacingAndGlyphs">10.0</text>
<text x="377.41" y="236.3" font-size="6.4" text-anchor="middle" textLength="13.03" lengthAdjust="spacingAndGlyphs">12.5</text>
<text x="399.38" y="236.3" font-size="6.4" text-anchor="middle" textLength="13.03" lengthAdjust="spacingAndGlyphs">15.0</text>
<text x="421.34" y="236.3" font-size="6.4" text-anchor="middle" textLength="13.03" lengthAdjust="spacingAndGlyphs">17.5</text>
<text x="443.3" y="236.3" font-size="6.4" text-anchor="middle" textLength="13.03" lengthAdjust="spacingAndGlyphs">20.0</text>
<text x="260.5" y="216.44" font-size="6.4" text-anchor="end" textLength="11.17" lengthAdjust="spacingAndGlyphs">800</text>
<text x="260.5" y="200.34" font-size="6.4" text-anchor="end" textLength="14.89" lengthAdjust="spacingAndGlyphs">1000</text>
<text x="260.5" y="184.25" font-size="6.4" text-anchor="end" textLength="14.89" lengthAdjust="spacingAndGlyphs">1200</text>
<text x="260.5" y="168.15" font-size="6.4" text-anchor="end" textLength="14.89" lengthAdjust="spacingAndGlyphs">1400</text>
<text x="260.5" y="152.06" font-size="6.4" text-anchor="end" textLength="14.89" lengthAdjust="spacingAndGlyphs">1600</text>
<text x="260.5" y="135.96" font-size="6.4" text-anchor="end" textLength="14.89" lengthAdjust="spacingAndGlyphs">1800</text>
<text x="355.5" y="243.4" font-size="7" text-anchor="middle" textLength="10.6" lengthAdjust="spacingAndGlyphs" class="lab">t [s]</text>
<text class="lab" transform="translate(241.6 176.8) rotate(-90)" font-size="7" text-anchor="middle">T [K]</text>
<rect x="281.8" y="214" width="148.7" height="11.4" rx="1.2" fill="#fff" stroke="#d0d0d0" stroke-width="0.8"/>
<path d="M284.1 219.3H297.1" stroke="#ff0000" stroke-width="1"/>
<text x="301.7" y="221.7" font-size="6.6" text-anchor="start" textLength="62" lengthAdjust="spacingAndGlyphs">Elmer: Temperature</text>
<text x="366.4" y="221.7" font-size="6.6" text-anchor="start" textLength="19.6" lengthAdjust="spacingAndGlyphs">profile</text>
<text x="388.3" y="221.7" font-size="6.6" text-anchor="start">at</text>
<text x="396.2" y="221.7" font-size="6.6" text-anchor="start">x</text>
<text x="401" y="221.7" font-size="6.6" text-anchor="start">=</text>
<text x="406.7" y="221.7" font-size="6.6" text-anchor="start" textLength="8.6" lengthAdjust="spacingAndGlyphs">5.0</text>
<text x="416.7" y="221.7" font-size="6.6" text-anchor="start" textLength="11" lengthAdjust="spacingAndGlyphs">mm</text>
<clipPath id="c2bot"><rect x="499.5" y="124.9" width="185" height="103.5"/></clipPath>
<path d="M499.92 124.9V228.4M508.68 124.9V228.4M513.07 124.9V228.4M517.45 124.9V228.4M521.83 124.9V228.4M530.6 124.9V228.4M534.98 124.9V228.4M539.36 124.9V228.4M543.74 124.9V228.4M552.51 124.9V228.4M556.89 124.9V228.4M561.27 124.9V228.4M565.65 124.9V228.4M574.42 124.9V228.4M578.8 124.9V228.4M583.19 124.9V228.4M587.57 124.9V228.4M596.33 124.9V228.4M600.72 124.9V228.4M605.1 124.9V228.4M609.48 124.9V228.4M618.25 124.9V228.4M622.63 124.9V228.4M627.01 124.9V228.4M631.39 124.9V228.4M640.16 124.9V228.4M644.54 124.9V228.4M648.92 124.9V228.4M653.31 124.9V228.4M662.07 124.9V228.4M666.45 124.9V228.4M670.84 124.9V228.4M675.22 124.9V228.4M683.98 124.9V228.4M499.5 225.37H684.5M499.5 220.64H684.5M499.5 215.91H684.5M499.5 206.45H684.5M499.5 201.72H684.5M499.5 196.99H684.5M499.5 187.53H684.5M499.5 182.8H684.5M499.5 178.07H684.5M499.5 168.61H684.5M499.5 163.88H684.5M499.5 159.15H684.5M499.5 149.69H684.5M499.5 144.96H684.5M499.5 140.23H684.5M499.5 130.77H684.5M499.5 126.04H684.5" stroke="#bfbfbf" stroke-width="0.8" fill="none" class="mg"/>
<path d="M504.3 124.9V228.4M526.21 124.9V228.4M548.12 124.9V228.4M570.04 124.9V228.4M591.95 124.9V228.4M613.86 124.9V228.4M635.77 124.9V228.4M657.69 124.9V228.4M679.6 124.9V228.4M499.5 211.18H684.5M499.5 192.26H684.5M499.5 173.34H684.5M499.5 154.42H684.5M499.5 135.5H684.5" stroke="#a4a4a4" stroke-width="0.9" fill="none" class="Mg"/>
<polyline points="504.4,223.3 507.5,223.3 507.81,221.84 508.12,220.38 508.43,218.91 508.74,217.44 509.06,215.96 509.38,214.47 509.7,212.99 510.04,211.5 510.38,210.01 510.73,208.52 511.1,207.04 511.47,205.56 511.87,204.08 512.27,202.6 512.7,201.14 513.14,199.68 513.61,198.22 514.09,196.78 514.6,195.35 515.14,193.92 515.7,192.51 516.28,191.12 516.9,189.74 517.54,188.37 518.21,187.02 518.91,185.68 519.64,184.36 520.4,183.06 521.18,181.77 521.99,180.5 522.83,179.25 523.69,178.02 524.57,176.8 525.48,175.59 526.41,174.41 527.37,173.24 528.34,172.1 529.34,170.97 530.36,169.86 531.39,168.76 532.45,167.69 533.53,166.63 534.62,165.6 535.73,164.58 536.86,163.59 538.01,162.61 539.17,161.65 540.35,160.72 541.54,159.8 542.74,158.91 543.96,158.03 545.19,157.18 546.43,156.35 547.69,155.54 548.96,154.75 550.23,153.98 551.52,153.23 552.82,152.5 554.13,151.79 555.45,151.1 556.78,150.43 558.12,149.78 559.47,149.14 560.83,148.52 562.2,147.92 563.57,147.34 564.96,146.77 566.35,146.22 567.75,145.68 569.16,145.16 570.58,144.66 572,144.17 573.43,143.69 574.87,143.23 576.31,142.78 577.76,142.34 579.22,141.92 580.68,141.51 582.15,141.11 583.62,140.72 585.09,140.35 586.58,139.98 588.06,139.63 589.55,139.29 591.04,138.95 592.54,138.63 594.04,138.31 595.55,138.01 597.05,137.71 598.56,137.42 600.07,137.13 601.59,136.86 603.1,136.59 604.62,136.33 606.14,136.07 607.66,135.82 609.18,135.58 610.7,135.34 612.22,135.1 613.74,134.87 615.26,134.65 616.79,134.42 618.31,134.2 619.83,133.99 621.34,133.77 622.86,133.56 624.37,133.35 625.89,133.14 627.4,132.93 628.91,132.73 630.41,132.52 631.92,132.31 633.41,132.11 634.91,131.9 636.4,131.69 637.89,131.48 639.37,131.26 640.85,131.05 642.33,130.83 643.8,130.61 645.26,130.38 646.72,130.16 648.18,129.92 649.62,129.69 651.06,129.45 652.5,129.2 652.67,130.68 652.83,132.16 652.99,133.65 653.15,135.14 653.3,136.64 653.45,138.14 653.59,139.65 653.74,141.16 653.89,142.68 654.03,144.2 654.18,145.72 654.33,147.24 654.47,148.77 654.63,150.3 654.78,151.82 654.94,153.36 655.1,154.89 655.27,156.42 655.44,157.95 655.62,159.48 655.8,161.01 655.99,162.54 656.19,164.07 656.4,165.6 656.61,167.12 656.84,168.64 657.08,170.16 657.32,171.68 657.58,173.19 657.85,174.7 658.13,176.21 658.43,177.71 658.74,179.21 659.06,180.7 659.4,182.18 659.76,183.66 660.13,185.14 660.51,186.61 660.92,188.07 661.34,189.52 661.78,190.97 662.24,192.4 662.72,193.83 663.22,195.25 663.75,196.67 664.29,198.07 664.85,199.46 665.44,200.85 666.05,202.22 666.69,203.58 667.35,204.93 668.03,206.27 668.74,207.6 669.48,208.92 670.24,210.22 671.04,211.51 671.86,212.79 672.7,214.05 673.58,215.31 674.49,216.54 675.43,217.76 676.4,218.97 677.4,220.16 678.43,221.34 679.5,222.5" fill="none" stroke="#ff0000" stroke-width="1" stroke-linejoin="round" stroke-linecap="butt" clip-path="url(#c2bot)"/>
<path d="M499.92 228.4V229.5M504.3 228.4V230M508.68 228.4V229.5M513.07 228.4V229.5M517.45 228.4V229.5M521.83 228.4V229.5M526.21 228.4V230M530.6 228.4V229.5M534.98 228.4V229.5M539.36 228.4V229.5M543.74 228.4V229.5M548.12 228.4V230M552.51 228.4V229.5M556.89 228.4V229.5M561.27 228.4V229.5M565.65 228.4V229.5M570.04 228.4V230M574.42 228.4V229.5M578.8 228.4V229.5M583.19 228.4V229.5M587.57 228.4V229.5M591.95 228.4V230M596.33 228.4V229.5M600.72 228.4V229.5M605.1 228.4V229.5M609.48 228.4V229.5M613.86 228.4V230M618.25 228.4V229.5M622.63 228.4V229.5M627.01 228.4V229.5M631.39 228.4V229.5M635.77 228.4V230M640.16 228.4V229.5M644.54 228.4V229.5M648.92 228.4V229.5M653.31 228.4V229.5M657.69 228.4V230M662.07 228.4V229.5M666.45 228.4V229.5M670.84 228.4V229.5M675.22 228.4V229.5M679.6 228.4V230M683.98 228.4V229.5M499.5 225.37H498.4M499.5 220.64H498.4M499.5 215.91H498.4M499.5 211.18H497.9M499.5 206.45H498.4M499.5 201.72H498.4M499.5 196.99H498.4M499.5 192.26H497.9M499.5 187.53H498.4M499.5 182.8H498.4M499.5 178.07H498.4M499.5 173.34H497.9M499.5 168.61H498.4M499.5 163.88H498.4M499.5 159.15H498.4M499.5 154.42H497.9M499.5 149.69H498.4M499.5 144.96H498.4M499.5 140.23H498.4M499.5 135.5H497.9M499.5 130.77H498.4M499.5 126.04H498.4" stroke="#000" stroke-width="0.9" fill="none"/>
<rect x="499.5" y="124.9" width="185" height="103.5" fill="none" stroke="#000" stroke-width="1"/>
<text x="504.3" y="236.3" font-size="6.4" text-anchor="middle" textLength="9.3" lengthAdjust="spacingAndGlyphs">0.0</text>
<text x="526.21" y="236.3" font-size="6.4" text-anchor="middle" textLength="9.3" lengthAdjust="spacingAndGlyphs">2.5</text>
<text x="548.12" y="236.3" font-size="6.4" text-anchor="middle" textLength="9.3" lengthAdjust="spacingAndGlyphs">5.0</text>
<text x="570.04" y="236.3" font-size="6.4" text-anchor="middle" textLength="9.3" lengthAdjust="spacingAndGlyphs">7.5</text>
<text x="591.95" y="236.3" font-size="6.4" text-anchor="middle" textLength="13.03" lengthAdjust="spacingAndGlyphs">10.0</text>
<text x="613.86" y="236.3" font-size="6.4" text-anchor="middle" textLength="13.03" lengthAdjust="spacingAndGlyphs">12.5</text>
<text x="635.77" y="236.3" font-size="6.4" text-anchor="middle" textLength="13.03" lengthAdjust="spacingAndGlyphs">15.0</text>
<text x="657.69" y="236.3" font-size="6.4" text-anchor="middle" textLength="13.03" lengthAdjust="spacingAndGlyphs">17.5</text>
<text x="679.6" y="236.3" font-size="6.4" text-anchor="middle" textLength="13.03" lengthAdjust="spacingAndGlyphs">20.0</text>
<text x="496.5" y="214.03" font-size="6.4" text-anchor="end" textLength="11.17" lengthAdjust="spacingAndGlyphs">800</text>
<text x="496.5" y="195.11" font-size="6.4" text-anchor="end" textLength="14.89" lengthAdjust="spacingAndGlyphs">1000</text>
<text x="496.5" y="176.19" font-size="6.4" text-anchor="end" textLength="14.89" lengthAdjust="spacingAndGlyphs">1200</text>
<text x="496.5" y="157.27" font-size="6.4" text-anchor="end" textLength="14.89" lengthAdjust="spacingAndGlyphs">1400</text>
<text x="496.5" y="138.35" font-size="6.4" text-anchor="end" textLength="14.89" lengthAdjust="spacingAndGlyphs">1600</text>
<text x="592" y="243.4" font-size="7" text-anchor="middle" textLength="10.6" lengthAdjust="spacingAndGlyphs" class="lab">t [s]</text>
<text class="lab" transform="translate(477.6 176.8) rotate(-90)" font-size="7" text-anchor="middle">T [K]</text>
<rect x="517.8" y="214" width="148.7" height="11.4" rx="1.2" fill="#fff" stroke="#d0d0d0" stroke-width="0.8"/>
<path d="M520.1 219.3H533.1" stroke="#ff0000" stroke-width="1"/>
<text x="537.7" y="221.7" font-size="6.6" text-anchor="start" textLength="62" lengthAdjust="spacingAndGlyphs">Elmer: Temperature</text>
<text x="602.4" y="221.7" font-size="6.6" text-anchor="start" textLength="19.6" lengthAdjust="spacingAndGlyphs">profile</text>
<text x="624.3" y="221.7" font-size="6.6" text-anchor="start">at</text>
<text x="632.2" y="221.7" font-size="6.6" text-anchor="start">x</text>
<text x="637" y="221.7" font-size="6.6" text-anchor="start">=</text>
<text x="642.7" y="221.7" font-size="6.6" text-anchor="start" textLength="8.6" lengthAdjust="spacingAndGlyphs">5.5</text>
<text x="652.7" y="221.7" font-size="6.6" text-anchor="start" textLength="11" lengthAdjust="spacingAndGlyphs">mm</text>
</svg>
</body></html>
